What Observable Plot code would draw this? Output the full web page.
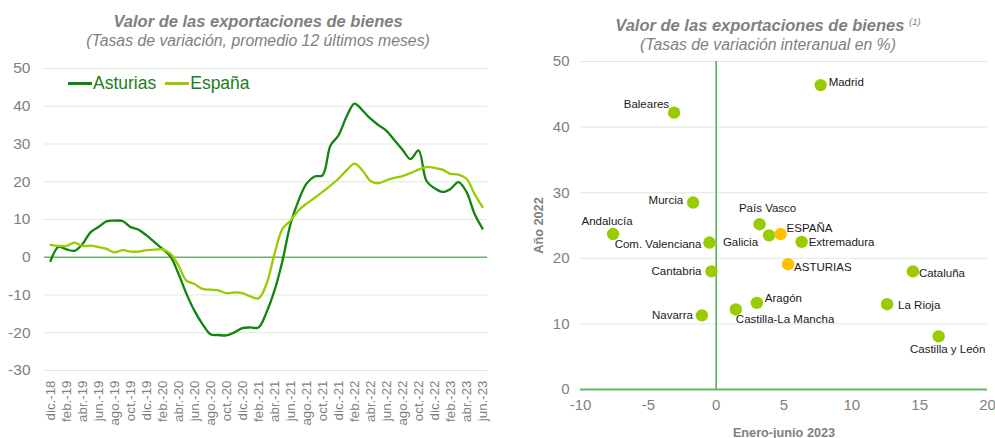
<!DOCTYPE html>
<html>
<head>
<meta charset="utf-8">
<script src="https://cdn.jsdelivr.net/npm/d3@7"></script>
<script src="https://cdn.jsdelivr.net/npm/@observablehq/plot@0.6"></script>
<style>
  html, body { margin: 0; padding: 0; background: #fff; }
  #wrap { position: relative; width: 995px; height: 438px; overflow: hidden; font-family: "Liberation Sans", Arial, sans-serif; }
  .panel { position: absolute; top: 0; }
  .title { position: absolute; text-align: center; color: #808080; white-space: nowrap; }
  .t1 { font-size: 16.5px; line-height: 19px; font-weight: bold; font-style: italic; }
  .t2 { font-size: 15.8px; line-height: 19px; font-style: italic; }
  .legend { position: absolute; left: 68px; top: 73px; color: #1b7d1b; font-size: 17.5px; display: flex; align-items: center; }
  .sw { display: inline-block; width: 24px; height: 3px; margin-right: 1px; }
</style>
</head>
<body>
<div id="wrap">
  <div class="panel" id="left" style="left:0"></div>
  <div class="panel" id="right" style="left:505px"></div>
  <div class="title" style="left:58px; width:400px; top:12px"><div class="t1">Valor de las exportaciones de bienes</div><div class="t2">(Tasas de variación, promedio 12 últimos meses)</div></div>
  <div class="title" style="left:568px; width:400px; top:12px"><div class="t1">Valor de las exportaciones de bienes <sup style="font-size:9.5px;vertical-align:6px;font-weight:normal">(1)</sup></div><div class="t2">(Tasas de variación interanual en %)</div></div>
  <div class="legend"><span class="sw" style="background:#0e860e"></span>Asturias<span class="sw" style="background:#99cc00;margin-left:9px"></span>España</div>
</div>
<script>
// ---------- Left chart data ----------
const monthNames = ["ene.","feb.","mar.","abr.","may.","jun.","jul.","ago.","sep.","oct.","nov.","dic."];
const months = [];
for (let y = 2018, m = 11; !(y === 2023 && m === 6); ) {
  months.push(monthNames[m] + "-" + String(y).slice(2));
  m++; if (m === 12) { m = 0; y++; }
}
const asturias = [-1, 2.7, 2.1, 1.7, 3.5, 6.6, 8, 9.5, 9.7, 9.6, 8, 7.3, 5.8, 4, 2.2, 0.2,
  -4.4, -9.7, -14.2, -17.7, -20.4, -20.6, -20.7, -19.9, -18.8, -18.6, -18.6, -14.6, -8.8, -0.9,
  8.8, 15, 19.5, 21.4, 21.7, 29.6, 32.3, 37.2, 40.7, 38.9, 36.7, 35, 33.5, 31, 28.5, 26, 28.3,
  20.2, 18.3, 17.3, 18.1, 19.9, 17.3, 11.5, 7.6];
const espana = [3.3, 3, 3, 3.9, 3, 3.1, 2.7, 2.2, 1.3, 1.9, 1.5, 1.5, 1.9, 2, 2.1, 0.9,
  -2.2, -6.2, -7.1, -8.4, -8.6, -8.8, -9.5, -9.3, -9.5, -10.4, -10.9, -7.1, 0.9, 7.5,
  9.7, 12.4, 14.2, 15.7, 17.3, 19, 20.8, 23, 24.8, 23, 20.2, 19.6, 20.4, 21, 21.5, 22.3, 23.2,
  23.9, 23.7, 23.2, 22.1, 21.9, 20.8, 16.8, 13.3];
const yTicksLeft = [-30, -20, -10, 0, 10, 20, 30, 40, 50];

const lineRows = months.flatMap((m, i) => [
  {month: m, value: asturias[i], serie: "Asturias"},
  {month: m, value: espana[i], serie: "España"}
]);

const left = Plot.plot({
  width: 505, height: 438,
  marginLeft: 44, marginRight: 18, marginTop: 68, marginBottom: 68,
  style: {fontFamily: "Liberation Sans, Arial, sans-serif", background: "transparent"},
  x: {type: "point", domain: months, padding: 0.4, label: null},
  y: {domain: [-30, 50], label: null},
  marks: [
    Plot.ruleY(yTicksLeft.filter(d => d !== 0), {stroke: "#dcebd9", strokeWidth: 1}),
    Plot.ruleY([0], {stroke: "#6ab46a", strokeWidth: 1.5}),
    Plot.line(lineRows, {x: "month", y: "value", z: "serie",
      stroke: d => d.serie === "Asturias" ? "#0e860e" : "#99cc00",
      strokeWidth: 2.3, curve: "catmull-rom"}),
    Plot.axisY(yTicksLeft, {tickSize: 0, tickPadding: 14, fontSize: 15.5, fill: "#808080", tickFormat: d => String(d)}),
    Plot.axisX(months.filter((d, i) => i % 2 === 0), {tickSize: 0, tickPadding: 10, tickRotate: -90, fontSize: 13.3, fill: "#808080"})
  ]
});
document.getElementById("left").appendChild(left);

// ---------- Right chart data ----------
const regions = ["Madrid","Baleares","Murcia","Andalucía","Com. Valenciana","País Vasco","Galicia","ESPAÑA","Extremadura","ASTURIAS","Cantabria","Cataluña","Aragón","Castilla-La Mancha","Navarra","La Rioja","Castilla y León"];
const ene_jun_2023 = [7.7, -3.1, -1.7, -7.6, -0.5, 3.2, 3.9, 4.75, 6.3, 5.3, -0.35, 14.5, 3.0, 1.45, -1.05, 12.6, 16.4];
const anio_2022 = [46.4, 42.2, 28.5, 23.7, 22.4, 25.2, 23.5, 23.7, 22.5, 19.1, 18.0, 18.0, 13.2, 12.2, 11.3, 13.0, 8.1];
const highlighted = ["ESPAÑA", "ASTURIAS"];
const xTicksRight = [-10, -5, 0, 5, 10, 15, 20];
const yTicksRight = [0, 10, 20, 30, 40, 50];

const pts = regions.map((r, i) => ({region: r, x: ene_jun_2023[i], y: anio_2022[i]}));
const labelPos = {
  "Madrid": {dx: 8, dy: -3, a: "start"},
  "Baleares": {dx: -5, dy: -8, a: "end"},
  "Murcia": {dx: -10, dy: -2, a: "end"},
  "Andalucía": {dx: -6, dy: -13, a: "middle"},
  "Com. Valenciana": {dx: -8, dy: 2, a: "end"},
  "País Vasco": {dx: 8, dy: -16, a: "middle"},
  "Galicia": {dx: -11, dy: 7, a: "end"},
  "ESPAÑA": {dx: 6, dy: -6, a: "start"},
  "Extremadura": {dx: 7, dy: 0, a: "start"},
  "ASTURIAS": {dx: 6, dy: 3, a: "start"},
  "Cantabria": {dx: -10, dy: 0, a: "end"},
  "Cataluña": {dx: 6, dy: 2, a: "start"},
  "Aragón": {dx: 8, dy: -5, a: "start"},
  "Castilla-La Mancha": {dx: 0, dy: 10, a: "start"},
  "Navarra": {dx: -9, dy: 0, a: "end"},
  "La Rioja": {dx: 11, dy: 1, a: "start"},
  "Castilla y León": {dx: 9, dy: 13, a: "middle"}
};
const labelMarks = ["start", "middle", "end"].flatMap(anchor =>
  pts.filter(p => labelPos[p.region].a === anchor).map(p =>
    Plot.text([p], {x: "x", y: "y", text: "region", textAnchor: anchor,
      dx: labelPos[p.region].dx, dy: labelPos[p.region].dy,
      fontSize: 11.5, fill: "#1a1a1a"})
  )
);

const right = Plot.plot({
  width: 490, height: 438,
  marginLeft: 75, marginRight: 8, marginTop: 61, marginBottom: 49,
  style: {fontFamily: "Liberation Sans, Arial, sans-serif", background: "transparent"},
  x: {domain: [-10, 20], label: null},
  y: {domain: [0, 50], label: null},
  marks: [
    Plot.ruleY(yTicksRight.filter(d => d !== 0), {stroke: "#dcebd9", strokeWidth: 1}),
    Plot.ruleY([0], {stroke: "#6ab46a", strokeWidth: 2}),
    Plot.ruleX([0], {stroke: "#4caf50", strokeWidth: 1.5}),
    Plot.dot(pts, {x: "x", y: "y", r: 6.2,
      fill: d => highlighted.includes(d.region) ? "#ffc000" : "#99cc00", stroke: "none"}),
    ...labelMarks,
    Plot.axisY(yTicksRight, {tickSize: 0, tickPadding: 11, fontSize: 15, fill: "#808080", tickFormat: d => String(d)}),
    Plot.axisX(xTicksRight, {tickSize: 0, tickPadding: 10, fontSize: 15, fill: "#808080", tickFormat: d => String(d)}),
    Plot.axisY({label: "Año 2022", labelAnchor: "center", labelArrow: "none", ticks: [], tickSize: 0, labelOffset: 47, fontSize: 12.7, fontWeight: "bold", fill: "#808080"}),
    Plot.axisX({label: "Enero-junio 2023", labelAnchor: "center", labelArrow: "none", ticks: [], tickSize: 0, labelOffset: 47, fontSize: 12.7, fontWeight: "bold", fill: "#808080"})
  ]
});
document.getElementById("right").appendChild(right);
</script>
</body>
</html>
